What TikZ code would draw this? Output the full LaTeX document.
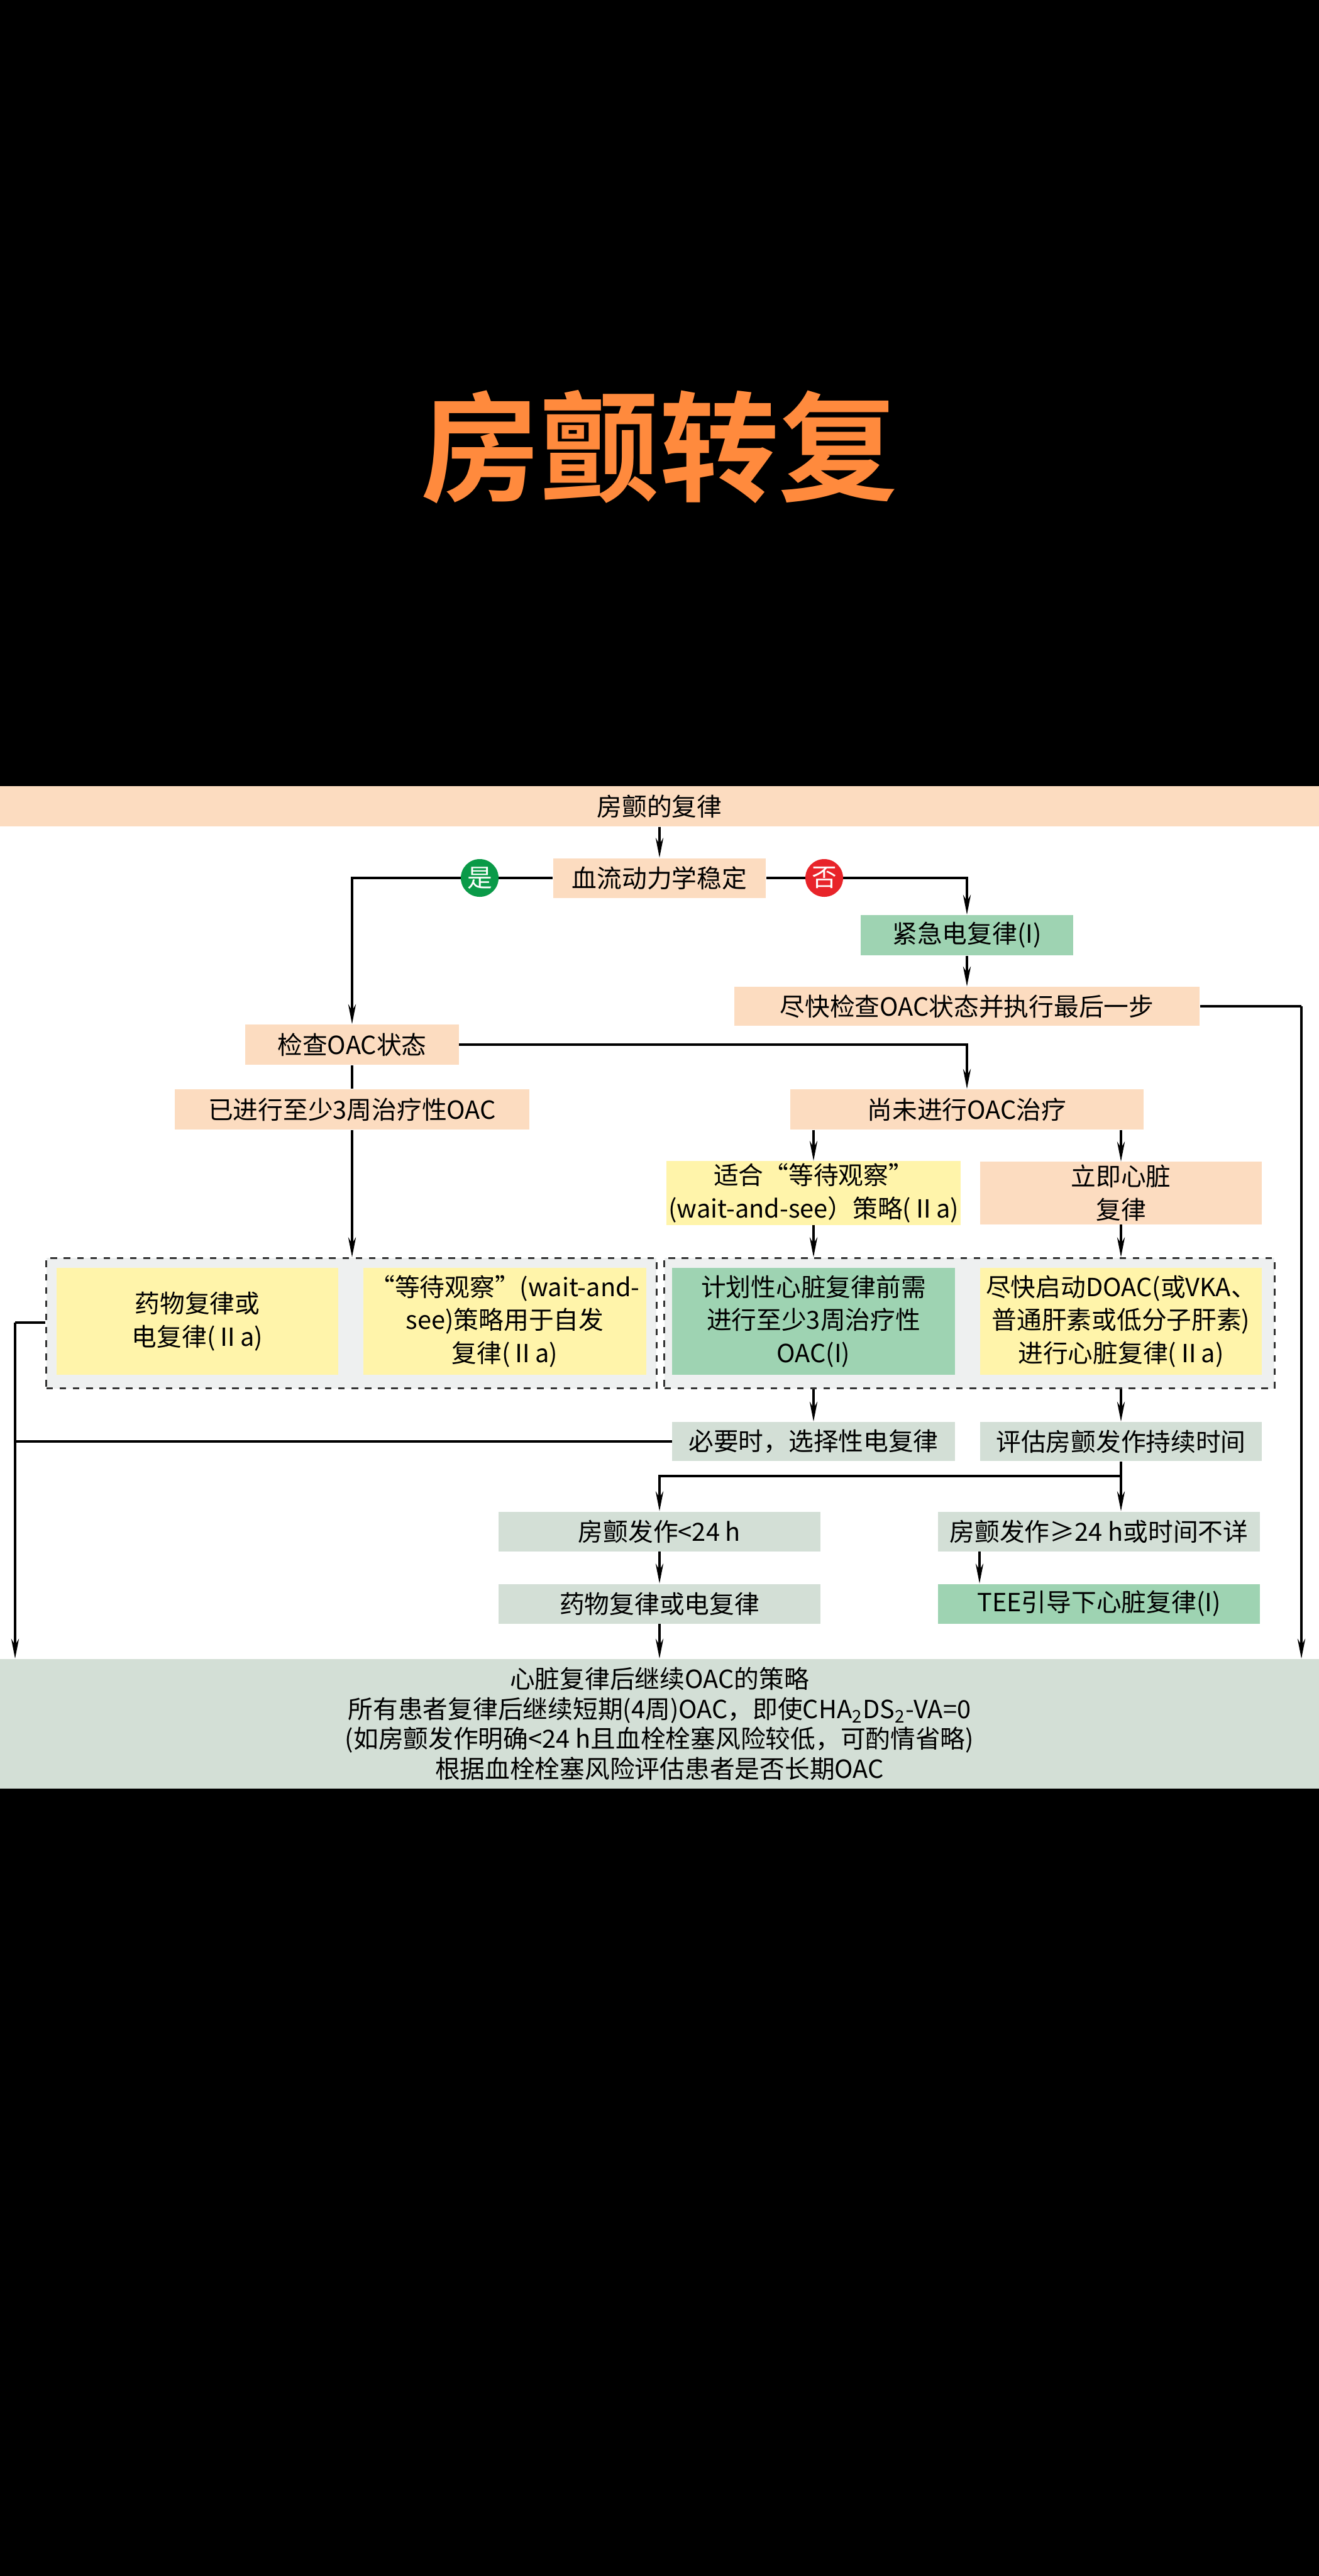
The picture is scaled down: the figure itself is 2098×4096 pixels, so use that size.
\documentclass[tikz,border=0pt]{standalone}
\usepackage{fontspec}
\setmainfont{Noto Sans CJK SC}[BoldFont={* Bold}]
\usetikzlibrary{arrows.meta,positioning,calc}
\definecolor{peach}{HTML}{FCDCC0}
\definecolor{mint}{HTML}{9ED3B2}
\definecolor{lemon}{HTML}{FFF4AA}
\definecolor{sage}{HTML}{D3DFD6}
\definecolor{groupbg}{HTML}{EEF0F0}
\definecolor{yesgreen}{HTML}{0A9A48}
\definecolor{nored}{HTML}{E8242A}
\definecolor{titleorange}{HTML}{FF8A3D}
\newcommand\boxfont{\fontsize{11.3}{15}\selectfont}
\tikzset{
    box/.style={inner sep=1pt, align=center, font=\boxfont},
    peachbox/.style={box, fill=peach},
    mintbox/.style={box, fill=mint},
    lemonbox/.style={box, fill=lemon},
    sagebox/.style={box, fill=sage},
    answer/.style={circle, minimum size=0.6cm, inner sep=0pt, text=white, font=\boxfont},
    group/.style={draw=black!80, dashed, line width=0.9pt, fill=groupbg},
    link/.style={line width=0.9pt},
    flow/.style={link, -{Stealth[length=9pt,width=3.5pt]}}
}
\begin{document}
\begin{tikzpicture}[x=0.01cm,y=-0.01cm]
    \useasboundingbox (0,0) rectangle (2098,4096);
    \fill[black] (0,0) rectangle (2098,4096);
    \fill[white] (0,1250) rectangle (2098,2844);
    \node[text=titleorange, font=\fontsize{54}{60}\selectfont\bfseries] (title) at (1049,711) {房颤转复};
    % top rows
    \node[peachbox, minimum width=20.98cm, minimum height=0.64cm] (top) at (1049,1282) {房颤的复律};
    \node[peachbox, minimum width=3.38cm, minimum height=0.63cm] (stable) at (1049,1396) {血流动力学稳定};
    \node[mintbox, minimum width=3.38cm, minimum height=0.64cm] (urgent) at (1538,1487) {紧急电复律(I)};
    \node[peachbox, minimum width=7.40cm, minimum height=0.62cm] (asap) at (1538,1600) {尽快检查OAC状态并执行最后一步};
    \node[peachbox, minimum width=3.39cm, minimum height=0.64cm] (check) at (560,1661) {检查OAC状态};
    \node[peachbox, minimum width=5.63cm, minimum height=0.64cm] (done3w) at (560,1764) {已进行至少3周治疗性OAC};
    \node[peachbox, minimum width=5.62cm, minimum height=0.64cm] (notyet) at (1538,1764) {尚未进行OAC治疗};
    \node[lemonbox, minimum width=4.49cm, minimum height=0.99cm] (wait) at (1294,1897) {适合“等待观察”\\(wait-and-see）策略(Ⅱa)};
    \node[peachbox, minimum width=4.48cm, minimum height=0.99cm] (immed) at (1783,1897) {立即心脏\\复律};
    % dashed groups
    \node[group, minimum width=9.70cm, minimum height=2.07cm] (g1) at (559,2104) {};
    \node[group, minimum width=9.70cm, minimum height=2.07cm] (g2) at (1542,2104) {};
    \node[lemonbox, minimum width=4.47cm, minimum height=1.70cm] (b1) at (314,2101) {药物复律或\\电复律(Ⅱa)};
    \node[lemonbox, minimum width=4.49cm, minimum height=1.70cm] (b2) at (803,2101) {“等待观察”(wait-and-\\see)策略用于自发\\复律(Ⅱa)};
    \node[mintbox, minimum width=4.49cm, minimum height=1.70cm] (b3) at (1294,2101) {计划性心脏复律前需\\进行至少3周治疗性\\OAC(I)};
    \node[lemonbox, minimum width=4.48cm, minimum height=1.70cm] (b4) at (1783,2101) {尽快启动DOAC(或VKA、\\普通肝素或低分子肝素)\\进行心脏复律(Ⅱa)};
    % lower rows
    \node[sagebox, minimum width=4.49cm, minimum height=0.62cm] (elect) at (1294,2292) {必要时，选择性电复律};
    \node[sagebox, minimum width=4.48cm, minimum height=0.62cm] (assess) at (1783,2292) {评估房颤发作持续时间};
    \node[sagebox, minimum width=5.12cm, minimum height=0.63cm] (lt24) at (1049,2435) {房颤发作<24 h};
    \node[sagebox, minimum width=5.12cm, minimum height=0.63cm] (ge24) at (1748,2435) {房颤发作≥24 h或时间不详};
    \node[sagebox, minimum width=5.12cm, minimum height=0.63cm] (drug) at (1049,2550) {药物复律或电复律};
    \node[mintbox, minimum width=5.12cm, minimum height=0.63cm] (tee) at (1748,2550) {TEE引导下心脏复律(I)};
    \node[sagebox, minimum width=20.98cm, minimum height=2.06cm, font=\fontsize{11.3}{13.5}\selectfont] (final) at (1049,2741)
        {心脏复律后继续OAC的策略\\所有患者复律后继续短期(4周)OAC，即使CHA\textsubscript{2}DS\textsubscript{2}-VA=0\\(如房颤发作明确<24 h且血栓栓塞风险较低，可酌情省略)\\根据血栓栓塞风险评估患者是否长期OAC};
    \coordinate (rr) at (2070,1600);
    \coordinate (lx) at (24,2103);
    \coordinate (split) at (1783,2347);
    \coordinate (tx) at (1558,2500);
    % connectors
    \draw[flow] (top) -- (stable);
    \draw[link] (stable.west) -- (763,1396) coordinate (ym);
    \draw[flow] (ym) -| (check.north);
    \draw[link] (stable.east) -- (1311,1396) coordinate (nm);
    \draw[flow] (nm) -| (urgent.north);
    \node[answer, fill=yesgreen] (yes) at (ym) {是};
    \node[answer, fill=nored] (no) at (nm) {否};
    \draw[flow] (urgent) -- (asap);
    \draw[link] (asap.east) -- (rr);
    \draw[flow] (rr) -- (rr |- final.north);
    \draw[flow] (check.east) -| (notyet.north);
    \draw[link] (check) -- (done3w);
    \draw[flow] (done3w.south) -- (done3w.south |- g1.north);
    \draw[flow] (wait.north |- notyet.south) -- (wait.north);
    \draw[flow] (immed.north |- notyet.south) -- (immed.north);
    \draw[flow] (wait.south) -- (wait.south |- g2.north);
    \draw[flow] (immed.south) -- (immed.south |- g2.north);
    \draw[flow] (elect.north |- g2.south) -- (elect.north);
    \draw[flow] (assess.north |- g2.south) -- (assess.north);
    \draw[link] (g1.west |- lx) -- (lx);
    \draw[link] (elect.west) -- (elect.west -| lx);
    \draw[flow] (lx) -- (lx |- final.north);
    \draw[link] (assess.south) -- (split);
    \draw[flow] (split) -| (lt24.north);
    \draw[flow] (split) -- (split |- ge24.north);
    \draw[flow] (ge24.south -| tx) -- (tee.north -| tx);
    \draw[flow] (lt24) -- (drug);
    \draw[flow] (drug) -- (final);
\end{tikzpicture}
\end{document}
